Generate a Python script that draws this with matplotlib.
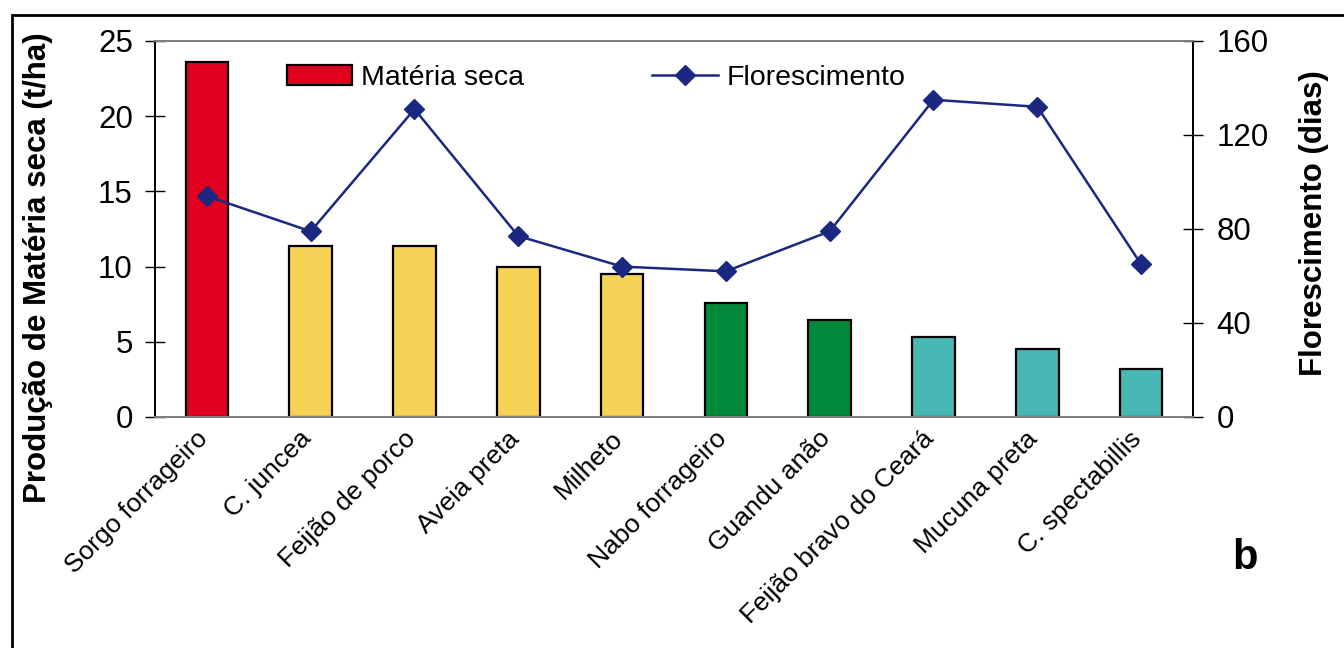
import matplotlib.pyplot as plt
from matplotlib.patches import Rectangle
from matplotlib.lines import Line2D
from matplotlib.transforms import ScaledTranslation

plt.rcParams['font.family'] = ['Liberation Sans', 'DejaVu Sans']

# dados
especies = ['Sorgo forrageiro', 'C. juncea', 'Feijão de porco', 'Aveia preta',
            'Milheto', 'Nabo forrageiro', 'Guandu anão', 'Feijão bravo do Ceará',
            'Mucuna preta', 'C. spectabillis']
materia_seca = [23.6, 11.4, 11.4, 10.0, 9.5, 7.6, 6.45, 5.3, 4.5, 3.2]
florescimento = [94, 79, 131, 77, 64, 62, 79, 135, 132, 65]
cores = ['#E2001F', '#F6D356', '#F6D356', '#F6D356', '#F6D356',
         '#00893A', '#00893A', '#48B8B4', '#48B8B4', '#48B8B4']

fig = plt.figure(figsize=(13.44, 6.48), dpi=100)
ax = fig.add_axes([155/1344, 1 - 417/648, (1193-155)/1344, (417-41)/648])
ax2 = ax.twinx()

x = list(range(len(especies)))
ax.bar(x, materia_seca, width=0.41, color=cores, edgecolor='black', linewidth=1.6, zorder=2)
ax2.plot(x, florescimento, color='#1B2882', lw=1.8, marker='D', markersize=10.5, zorder=3)

ax.set_xlim(-0.5, len(especies) - 0.5)
ax.set_ylim(0, 25)
ax.set_yticks([0, 5, 10, 15, 20, 25])
ax2.set_ylim(0, 160)
ax2.set_yticks([0, 40, 80, 120, 160])

for a in (ax, ax2):
    a.spines['top'].set_color('#808080')
    a.spines['bottom'].set_color('#808080')
    a.spines['left'].set_color('black')
    a.spines['right'].set_color('black')
    for s in a.spines.values():
        s.set_linewidth(1.3)
ax.tick_params(axis='y', direction='inout', length=14, width=1, labelsize=22.5, pad=9)
ax2.tick_params(axis='y', direction='inout', length=14, width=1, labelsize=22.5, pad=10)

ax.set_xticks(x)
ax.set_xticklabels(especies, rotation=45, ha='right', va='center',
                   rotation_mode='anchor', fontsize=19)
ax.tick_params(axis='x', length=0, pad=13)
desloc = ScaledTranslation(-3/100, 0, fig.dpi_scale_trans)
for lab in ax.get_xticklabels():
    lab.set_transform(lab.get_transform() + desloc)

fig.text(38/1344, 1 - 268/648, 'Produção de Matéria seca (t/ha)', rotation=90,
         ha='center', va='center', fontsize=22.5, fontweight='bold')
fig.text(1314/1344, 1 - 223/648, 'Florescimento (dias)', rotation=90,
         ha='center', va='center', fontsize=22.5, fontweight='bold')
fig.text(1245/1344, 1 - 558/648, 'b', ha='center', va='center',
         fontsize=30, fontweight='bold')

handles = [Rectangle((0, 0), 1, 1, facecolor='#E2001F', edgecolor='black', linewidth=1.6),
           Line2D([], [], color='#1B2882', lw=1.8, marker='D', markersize=10.5)]
fig.legend(handles, ['Matéria seca', 'Florescimento'], ncol=2, frameon=False,
           loc='center left', bbox_to_anchor=(287/1344, 1 - 78/648), fontsize=20.5,
           borderpad=0, borderaxespad=0, handlelength=2.3, handletextpad=0.3,
           columnspacing=4.5)

# moldura externa
fig.add_artist(Rectangle((12/1344, -0.1), 1.2, 1.1 - 15/648, transform=fig.transFigure,
                         fill=False, edgecolor='black', linewidth=2))

fig.savefig('out.png', dpi=100)
